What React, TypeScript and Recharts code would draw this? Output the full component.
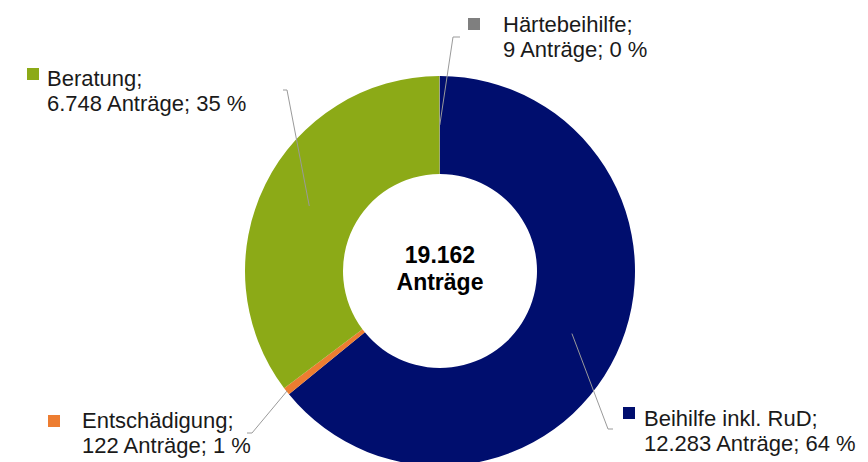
import React from "react";
import { PieChart, Pie, Cell } from "recharts";

const categories = ["Beihilfe inkl. RuD", "Entschädigung", "Beratung", "Härtebeihilfe"];
const antraege = [12283, 122, 6748, 9];
const colors = ["#000E6E", "#ED7D31", "#8CAA17", "#7F7F7F"];
const unitLabel = "Anträge";

const total = antraege.reduce((a, b) => a + b, 0);
const data = categories.map((name, i) => ({ name, value: antraege[i] }));

const fmt = (n: number) => String(n).replace(/\B(?=(\d{3})+(?!\d))/g, ".");

// label layout relative to pie centre: start radius, elbow, end, square, text
const layout: Record<string, any> = {
  "Beihilfe inkl. RuD": { r: 146, elbow: [168, 158], end: [173, 158], sq: [183, 136], tx: 204, ty: 155 },
  "Entschädigung": { r: 194, elbow: [-188, 162], end: [-193, 162], sq: [-392, 144], tx: -358, ty: 157 },
  "Beratung": { r: 146, elbow: [-153, -181], end: [-157, -181], sq: [-413, -203], tx: -393, ty: -185 },
  "Härtebeihilfe": { r: 146, elbow: [13, -234], end: [20, -234], sq: [28, -253], tx: 63, ty: -239 },
};

const RAD = Math.PI / 180;
const FONT = "'Liberation Sans', Arial, sans-serif";

const renderLabel = (props: any) => {
  const { cx, cy, midAngle, name, value, index } = props;
  const L = layout[name];
  if (!L) return null;
  const sx = cx + L.r * Math.cos(-midAngle * RAD);
  const sy = cy + L.r * Math.sin(-midAngle * RAD);
  const pct = Math.round((value / total) * 100);
  return (
    <g key={`lbl-${index}`}>
      {index === 0 && (
        <g>
          <text x={cx} y={cy - 8} textAnchor="middle" fontFamily={FONT} fontSize={23} fontWeight="bold" fill="#000">
            {fmt(total)}
          </text>
          <text x={cx} y={cy + 19} textAnchor="middle" fontFamily={FONT} fontSize={23} fontWeight="bold" fill="#000">
            {unitLabel}
          </text>
        </g>
      )}
      <polyline
        points={`${sx},${sy} ${cx + L.elbow[0]},${cy + L.elbow[1]} ${cx + L.end[0]},${cy + L.end[1]}`}
        fill="none"
        stroke="#9A9A9A"
        strokeWidth={1}
      />
      <rect x={cx + L.sq[0]} y={cy + L.sq[1]} width={12} height={12} fill={colors[index]} />
      <text x={cx + L.tx} y={cy + L.ty} fontFamily={FONT} fontSize={22} fill="#1a1a1a">
        {name};
      </text>
      <text x={cx + L.tx} y={cy + L.ty + 25} fontFamily={FONT} fontSize={22} fill="#1a1a1a">
        {`${fmt(value)} ${unitLabel}; ${pct} %`}
      </text>
    </g>
  );
};

export default function App() {
  return (
    <div style={{ position: "absolute", left: 0, top: 0, width: 868, height: 462, background: "#fff" }}>
      <PieChart width={868} height={462} margin={{ top: 0, right: 0, bottom: 0, left: 0 }}>
        <Pie
          data={data}
          dataKey="value"
          nameKey="name"
          cx={440}
          cy={271}
          innerRadius={97}
          outerRadius={195}
          startAngle={90}
          endAngle={-270}
          stroke="none"
          label={renderLabel}
          labelLine={false}
          isAnimationActive={false}
        >
          {data.map((d, i) => (
            <Cell key={d.name} fill={colors[i]} />
          ))}
        </Pie>
      </PieChart>
    </div>
  );
}
